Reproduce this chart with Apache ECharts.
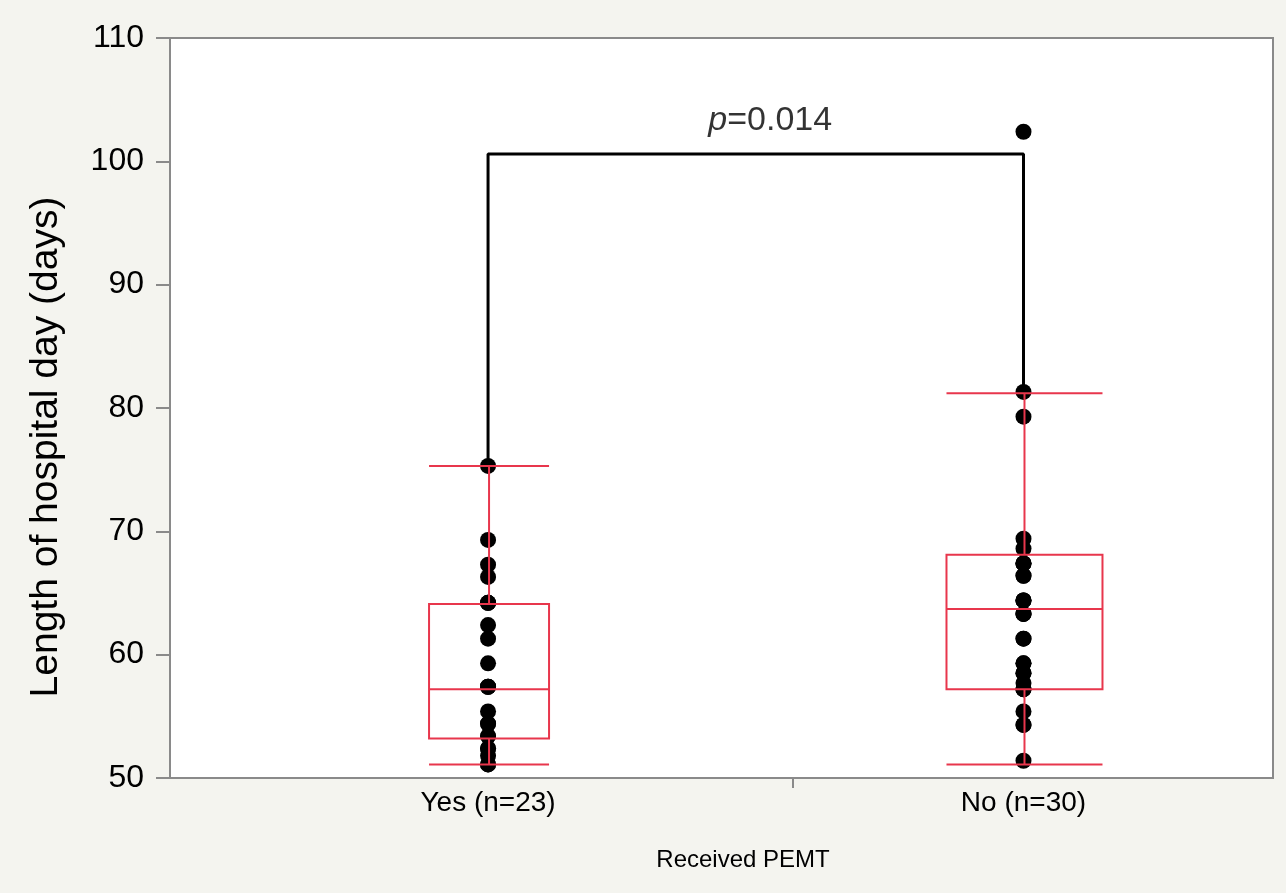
<!DOCTYPE html>
<html>
<head>
<meta charset="utf-8">
<script src="https://cdn.jsdelivr.net/npm/echarts@6/dist/echarts.min.js"></script>
<style>
html,body{margin:0;padding:0;background:#f4f4ef;}
#chart{width:1286px;height:893px;}
</style>
</head>
<body>
<div id="chart"></div>
<script>
// ---- data ----
const categories = ['Yes (n=23)', 'No (n=30)'];
const categoryPos = [1, 2];
// box stats: [min, Q1, median, Q3, max]
const boxYes = [51.1, 53.2, 57.2, 64.1, 75.3];
const boxNo = [51.1, 57.2, 63.7, 68.1, 81.2];
// individual points (overlapping duplicates included)
const pointsYes = [75.3, 69.3, 67.3, 66.3, 64.2, 64.2, 62.4, 61.3, 59.3, 57.4, 57.4, 55.4, 54.4, 54.4, 53.4, 53.4, 52.4, 52.4, 51.8, 51.1, 51.1, 57.4, 64.2];
const pointsNo = [102.4, 81.3, 79.3, 69.4, 68.6, 67.4, 67.4, 66.4, 66.4, 64.4, 64.4, 63.3, 63.3, 61.3, 61.3, 59.3, 59.3, 58.5, 58.5, 57.7, 57.2, 57.2, 55.4, 54.3, 54.3, 51.4, 63.3, 64.4, 67.4, 57.2];
const bracketY = 100.6;
const pItalic = 'p';
const pRest = '=0.014';
const yTicks = [50, 60, 70, 80, 90, 100, 110];
const xDividerTick = 1.57;

// ---- style constants ----
const RED = '#e8364c';
const BOX_HALF_PX = [60, 78];

const chart = echarts.init(document.getElementById('chart'));
const FONT = 'Liberation Sans, Arial, Helvetica, sans-serif';

const boxData = [
  [categoryPos[0]].concat(boxYes).concat([BOX_HALF_PX[0]]),
  [categoryPos[1]].concat(boxNo).concat([BOX_HALF_PX[1]])
];

function renderBox(params, api) {
  const x = api.value(0);
  const half = api.value(6);
  const pMin = api.coord([x, api.value(1)]);
  const pQ1 = api.coord([x, api.value(2)]);
  const pMed = api.coord([x, api.value(3)]);
  const pQ3 = api.coord([x, api.value(4)]);
  const pMax = api.coord([x, api.value(5)]);
  const cx = pMed[0] + 1;
  const st = { stroke: RED, lineWidth: 2, fill: null };
  return {
    type: 'group',
    children: [
      { type: 'line', shape: { x1: cx, y1: pMax[1], x2: cx, y2: pQ3[1] }, style: st },
      { type: 'line', shape: { x1: cx, y1: pQ1[1], x2: cx, y2: pMin[1] }, style: st },
      { type: 'line', shape: { x1: cx - half, y1: pMax[1], x2: cx + half, y2: pMax[1] }, style: st },
      { type: 'line', shape: { x1: cx - half, y1: pMin[1], x2: cx + half, y2: pMin[1] }, style: st },
      { type: 'rect', shape: { x: cx - half, y: pQ3[1], width: 2 * half, height: pQ1[1] - pQ3[1] }, style: st },
      { type: 'line', shape: { x1: cx - half, y1: pMed[1], x2: cx + half, y2: pMed[1] }, style: st }
    ]
  };
}

const option = {
  backgroundColor: '#f4f4ef',
  animation: false,
  grid: {
    left: 170, right: 13, top: 38, bottom: 115,
    show: true, backgroundColor: '#ffffff', borderColor: '#8a8a8a', borderWidth: 2
  },
  xAxis: {
    type: 'value',
    min: 0.406, max: 2.466,
    name: 'Received PEMT',
    nameLocation: 'middle',
    nameGap: 70,
    nameTextStyle: { fontFamily: FONT, fontSize: 24, color: '#000', padding: [0, 0, 0, 43] },
    axisLine: { show: true, lineStyle: { color: '#8a8a8a', width: 2 } },
    axisTick: { show: true, customValues: [xDividerTick], length: 10, lineStyle: { color: '#8a8a8a', width: 2 } },
    axisLabel: {
      customValues: categoryPos,
      formatter: function (v) {
        const i = categoryPos.indexOf(Math.round(v));
        return i >= 0 ? categories[i] : '';
      },
      fontFamily: FONT, fontSize: 28, color: '#000', margin: 11
    },
    splitLine: { show: false }
  },
  yAxis: {
    type: 'value',
    min: yTicks[0], max: yTicks[yTicks.length - 1], interval: 10,
    name: 'Length of hospital day (days)',
    nameLocation: 'middle',
    nameGap: 104,
    nameTextStyle: { fontFamily: FONT, fontSize: 39, color: '#000', padding: [0, 78, 0, 0] },
    axisLine: { show: true, lineStyle: { color: '#8a8a8a', width: 2 } },
    axisTick: { show: true, length: 14, lineStyle: { color: '#8a8a8a', width: 2 } },
    axisLabel: { fontFamily: FONT, fontSize: 32, color: '#000', margin: 26 },
    splitLine: { show: false }
  },
  series: [
    {
      type: 'line',
      data: [[categoryPos[0], boxYes[4]], [categoryPos[0], bracketY], [categoryPos[1], bracketY], [categoryPos[1], boxNo[4]]],
      symbol: 'none',
      lineStyle: { color: '#000', width: 3 },
      z: 2,
      silent: true
    },
    {
      type: 'scatter',
      data: pointsYes.map(v => [categoryPos[0], v]),
      symbolSize: 16,
      itemStyle: { color: '#000', opacity: 1 },
      z: 3
    },
    {
      type: 'scatter',
      data: pointsNo.map(v => [categoryPos[1], v]),
      symbolSize: 16,
      itemStyle: { color: '#000', opacity: 1 },
      z: 3
    },
    {
      type: 'custom',
      renderItem: renderBox,
      data: boxData,
      encode: { x: 0, y: [1, 5] },
      z: 4,
      silent: true
    },
    {
      type: 'scatter',
      data: [[1.527, 103.3]],
      symbolSize: 0,
      silent: true,
      label: {
        show: true,
        position: 'inside',
        formatter: function () { return '{i|' + pItalic + '}{n|' + pRest + '}'; },
        rich: {
          i: { fontStyle: 'italic', fontFamily: FONT, fontSize: 34, color: '#000' },
          n: { fontFamily: FONT, fontSize: 34, color: '#000' }
        }
      },
      z: 5
    }
  ]
};
chart.setOption(option);
</script>
</body>
</html>
